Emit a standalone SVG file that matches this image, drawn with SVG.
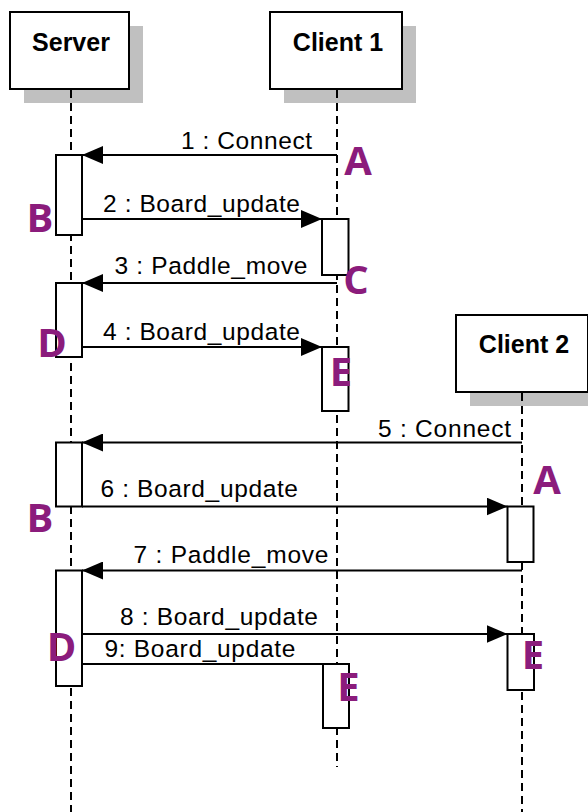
<svg xmlns="http://www.w3.org/2000/svg" width="588" height="812" viewBox="0 0 588 812">
<style>
.hdr{fill:#fff;stroke:#000;stroke-width:2}
.shd{fill:#c0c0c0}
.life{stroke:#000;stroke-width:2;stroke-dasharray:8 5;fill:none}
.act{fill:#fff;stroke:#000;stroke-width:2}
.msg{stroke:#000;stroke-width:2;fill:none}
.ht{font-family:"Liberation Sans",Arial,sans-serif;font-weight:bold;font-size:25px;text-anchor:middle;fill:#000}
.mt{font-family:"Liberation Sans",Arial,sans-serif;font-size:24.5px;fill:#000}
.lt{font-family:"Open Sans","Noto Sans",sans-serif;font-weight:bold;font-size:40px;text-anchor:middle;fill:#8b1c7c}
</style>
<defs>
<marker id="arr" markerUnits="userSpaceOnUse" markerWidth="22" markerHeight="18" refX="21" refY="9" orient="auto">
<path d="M0,0 L21,9 L0,18 z" fill="#000"/>
</marker>
</defs>
<rect width="588" height="812" fill="#fff"/>

<g id="server">
<rect class="shd" x="24" y="26" width="119" height="77"/>
<rect class="hdr" x="10" y="12" width="119" height="77"/>
<text class="ht" x="71" y="51">Server</text>
<line class="life" x1="71" y1="90" x2="71" y2="812"/>
</g>
<g id="client1">
<rect class="shd" x="284" y="26" width="132" height="77"/>
<rect class="hdr" x="270" y="12" width="132" height="77"/>
<text class="ht" x="338" y="51">Client 1</text>
<line class="life" x1="337" y1="90" x2="337" y2="767"/>
</g>
<g id="client2">
<rect class="shd" x="470" y="329" width="130" height="77"/>
<rect class="hdr" x="456" y="315" width="132" height="77"/>
<text class="ht" x="524" y="353">Client 2</text>
<line class="life" x1="522" y1="393" x2="522" y2="812"/>
</g>

<g id="activations">
<rect id="s1" class="act" x="56" y="155" width="26" height="80"/>
<rect id="s2" class="act" x="56" y="283" width="26" height="74"/>
<rect id="s3" class="act" x="56" y="442.5" width="26" height="64"/>
<rect id="s4" class="act" x="56" y="570.5" width="26" height="115.5"/>
<rect id="c1a" class="act" x="322" y="219" width="26.5" height="56"/>
<rect id="c1b" class="act" x="322" y="347" width="26.5" height="64"/>
<rect id="c1c" class="act" x="323" y="664" width="26" height="64"/>
<rect id="c2a" class="act" x="507.5" y="506.5" width="26" height="55.5"/>
<rect id="c2b" class="act" x="507.5" y="634" width="26.5" height="56"/>
</g>

<g id="connectors">
<line class="msg" x1="337" y1="155" x2="82" y2="155" marker-end="url(#arr)"/>
<line class="msg" x1="82" y1="219" x2="322" y2="219" marker-end="url(#arr)"/>
<line class="msg" x1="337" y1="283" x2="82" y2="283" marker-end="url(#arr)"/>
<line class="msg" x1="82" y1="347" x2="322" y2="347" marker-end="url(#arr)"/>
<line class="msg" x1="522" y1="442.5" x2="82" y2="442.5" marker-end="url(#arr)"/>
<line class="msg" x1="82" y1="506.5" x2="507.5" y2="506.5" marker-end="url(#arr)"/>
<line class="msg" x1="522" y1="570.5" x2="82" y2="570.5" marker-end="url(#arr)"/>
<line class="msg" x1="82" y1="634" x2="507.5" y2="634" marker-end="url(#arr)"/>
<line class="msg" x1="82" y1="664" x2="323" y2="664"/>
</g>

<g id="labels">
<text class="mt" x="181" y="149" textLength="131">1 : Connect</text>
<text class="mt" x="103" y="211.5" textLength="197">2 : Board_update</text>
<text class="mt" x="114.5" y="274" textLength="193">3 : Paddle_move</text>
<text class="mt" x="103" y="339.5" textLength="197">4 : Board_update</text>
<text class="mt" x="378" y="437" textLength="133">5 : Connect</text>
<text class="mt" x="100.5" y="496.5" textLength="197.5">6 : Board_update</text>
<text class="mt" x="133.5" y="562.5" textLength="195">7 : Paddle_move</text>
<text class="mt" x="120" y="624.5" textLength="198">8 : Board_update</text>
<text class="mt" x="104.5" y="657" textLength="191">9: Board_update</text>
</g>

<g id="marks">
<text class="lt" x="358" y="175">A</text>
<text class="lt" x="40" y="232">B</text>
<text class="lt" x="356" y="294">C</text>
<text class="lt" x="52" y="357">D</text>
<text class="lt" x="341" y="386">E</text>
<text class="lt" x="547" y="494">A</text>
<text class="lt" x="40" y="531.5">B</text>
<text class="lt" x="61.5" y="660.5">D</text>
<text class="lt" x="348.5" y="701">E</text>
<text class="lt" x="533" y="669">E</text>
</g>
</svg>
